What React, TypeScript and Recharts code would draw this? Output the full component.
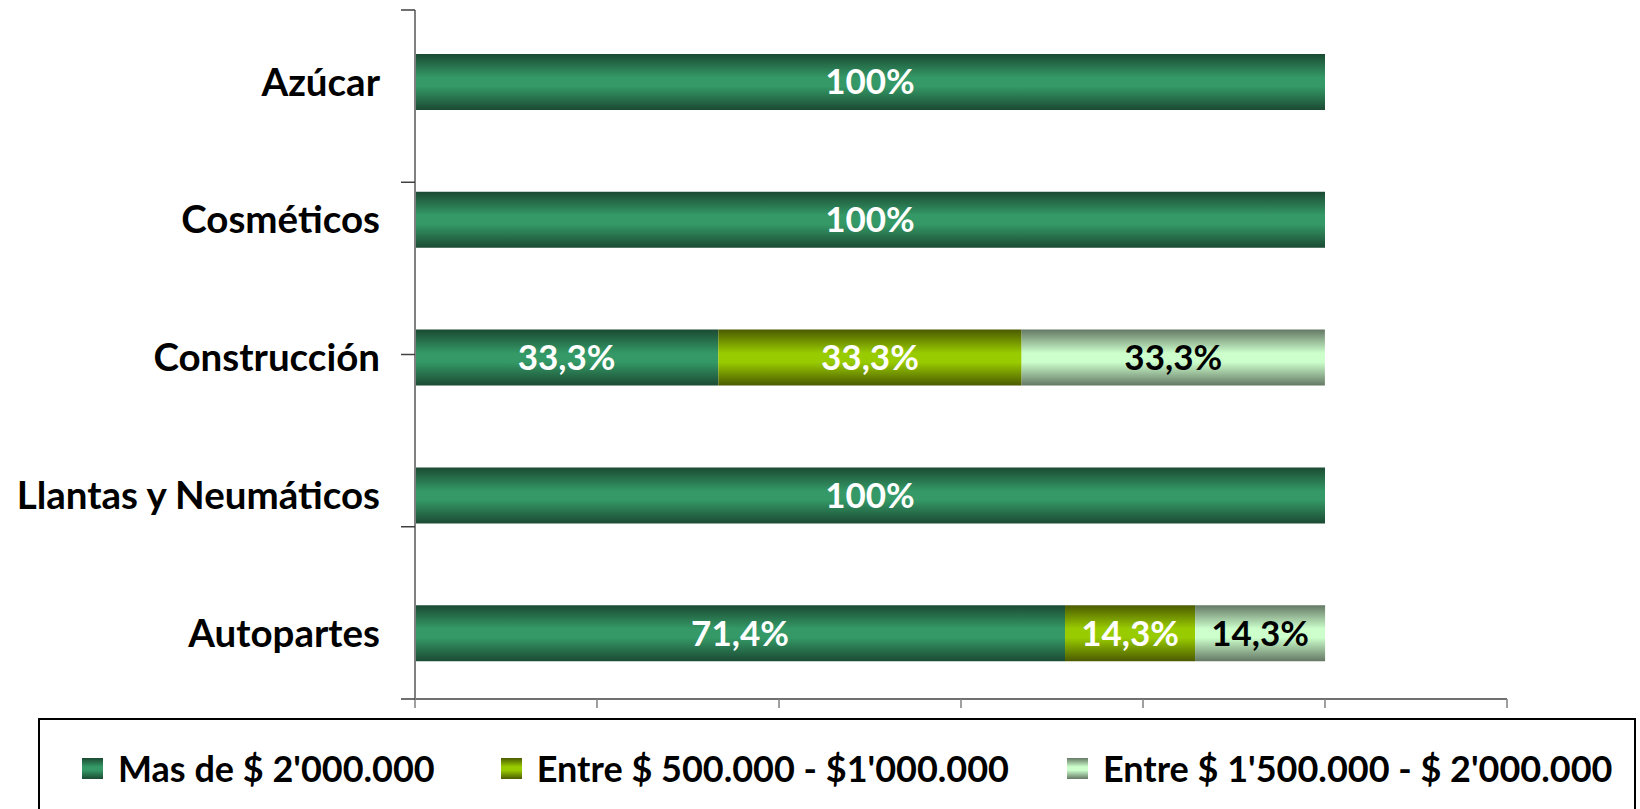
import React from "react";
import { BarChart, Bar, XAxis, YAxis, LabelList } from "recharts";

const categories = ["Azúcar", "Cosméticos", "Construcción", "Llantas y Neumáticos", "Autopartes"];
const masDe2M = [100, 100, 33.33, 100, 71.43];
const entre500k = [0, 0, 33.33, 0, 14.29];
const entre1500k = [0, 0, 33.33, 0, 14.29];
const seriesNames = ["Mas de $ 2'000.000", "Entre $ 500.000 - $1'000.000", "Entre $ 1'500.000 - $ 2'000.000"];
const xTicks = [0, 20, 40, 60, 80, 100, 120];
const bandTicks = [0, 1, 2, 3, 4, 5];

const data = categories.map((name, i) => ({
  name,
  s1: masDe2M[i],
  s2: entre500k[i],
  s3: entre1500k[i],
}));

const FONT = "Lato, 'Open Sans', sans-serif";

const series = [
  { key: "s1", grad: "g1", dark: "#1b4a33", light: "#349966", label: "#ffffff" },
  { key: "s2", grad: "g2", dark: "#4b5a00", light: "#99cc00", label: "#ffffff" },
  { key: "s3", grad: "g3", dark: "#657865", light: "#ccffcc", label: "#000000" },
];

const fmt = (v: any) => {
  const n = Number(v);
  if (!n) return "";
  if (n >= 99.95) return "100%";
  return n.toFixed(1).replace(".", ",") + "%";
};

// tick marks only, no tick text
const NoText = () => <g />;

export default function App() {
  return (
    <div style={{ position: "absolute", left: 0, top: 0, width: 1640, height: 809, overflow: "hidden", background: "#fff" }}>
      <BarChart
        width={1640}
        height={809}
        data={data}
        layout="vertical"
        margin={{ top: 10, right: 133, bottom: 101, left: 0 }}
      >
        <defs>
          {series.map((s) => (
            <linearGradient key={s.grad} id={s.grad} x1="0" y1="0" x2="0" y2="1">
              <stop offset="0%" stopColor={s.dark} />
              <stop offset="42%" stopColor={s.light} />
              <stop offset="58%" stopColor={s.light} />
              <stop offset="100%" stopColor={s.dark} />
            </linearGradient>
          ))}
        </defs>
        <XAxis
          type="number"
          domain={[0, 120]}
          ticks={xTicks}
          tick={NoText}
          height={9}
          tickSize={9}
          axisLine={{ stroke: "#404040", strokeWidth: 1.5 }}
          tickLine={{ stroke: "#808080", strokeWidth: 1.5 }}
        />
        <YAxis
          yAxisId="band"
          type="number"
          domain={[0, 5]}
          ticks={bandTicks}
          allowDataOverflow
          tick={NoText}
          width={1}
          tickSize={14}
          axisLine={{ stroke: "#808080", strokeWidth: 2 }}
          tickLine={{ stroke: "#404040", strokeWidth: 1.5 }}
        />
        <YAxis
          yAxisId="cat"
          type="category"
          dataKey="name"
          width={414}
          padding={{ top: 3, bottom: -3 }}
          axisLine={false}
          tickLine={false}
          tickSize={14}
          tickMargin={20}
          tick={{ fill: "#000", fontSize: 38.5, fontWeight: 700, fontFamily: FONT }}
        />
        {series.map((s) => (
          <Bar
            key={s.key}
            dataKey={s.key}
            yAxisId="cat"
            stackId="a"
            barSize={56}
            fill={`url(#${s.grad})`}
            isAnimationActive={false}
          >
            <LabelList
              dataKey={s.key}
              position="center"
              formatter={fmt}
              fill={s.label}
              style={{ fontSize: 35, fontWeight: 700, fontFamily: FONT }}
            />
          </Bar>
        ))}
      </BarChart>
      <div
        style={{
          position: "absolute",
          left: 38,
          top: 718,
          width: 1598,
          height: 120,
          border: "2px solid #000",
          boxSizing: "border-box",
          background: "#fff",
          display: "flex",
          alignItems: "flex-start",
          paddingLeft: 42,
          paddingTop: 27,
          fontFamily: FONT,
          fontWeight: 700,
          fontSize: 36,
          lineHeight: "42px",
          color: "#000",
        }}
      >
        {series.map((s, i) => (
          <div key={s.key} style={{ display: "flex", alignItems: "center", marginRight: i === 0 ? 66 : 58 }}>
            <span
              style={{
                display: "inline-block",
                width: 21,
                height: 21,
                marginRight: 15,
                background: `linear-gradient(to bottom, ${s.dark} 0%, ${s.light} 42%, ${s.light} 58%, ${s.dark} 100%)`,
              }}
            />
            <span style={{ whiteSpace: "nowrap" }}>{seriesNames[i]}</span>
          </div>
        ))}
      </div>
    </div>
  );
}
